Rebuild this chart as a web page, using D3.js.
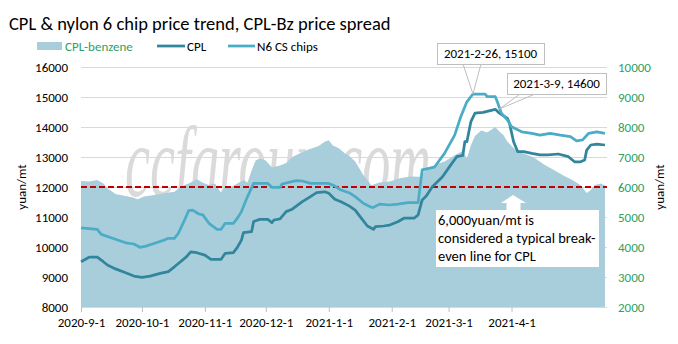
<!DOCTYPE html>
<html><head><meta charset="utf-8">
<script src="https://cdn.jsdelivr.net/npm/d3@7/dist/d3.min.js"></script>
<style>
body{margin:0;background:#fff}
svg{display:block}
text{font-family:Carlito,Lato,sans-serif}
</style>
</head><body>
<svg id="c" width="678" height="344"></svg>
<script>
// ---------------- data ----------------
const title = "CPL & nylon 6 chip price trend, CPL-Bz price spread";
const seriesNames = ["CPL-benzene", "CPL", "N6 CS chips"];

const spreadDates = ["2020-09-01","2020-09-05","2020-09-09","2020-09-12","2020-09-14","2020-09-18","2020-09-23","2020-09-26","2020-09-29","2020-10-02","2020-10-07","2020-10-12","2020-10-17","2020-10-20","2020-10-24","2020-10-28","2020-10-31","2020-11-03","2020-11-06","2020-11-09","2020-11-11","2020-11-14","2020-11-17","2020-11-20","2020-11-22","2020-11-24","2020-11-26","2020-11-28","2020-12-01","2020-12-04","2020-12-08","2020-12-11","2020-12-14","2020-12-17","2020-12-22","2020-12-27","2020-12-30","2021-01-01","2021-01-03","2021-01-06","2021-01-09","2021-01-11","2021-01-14","2021-01-18","2021-01-21","2021-01-22","2021-01-26","2021-01-31","2021-02-05","2021-02-10","2021-02-15","2021-02-18","2021-02-22","2021-02-27","2021-03-04","2021-03-08","2021-03-10","2021-03-12","2021-03-14","2021-03-17","2021-03-20","2021-03-24","2021-03-26","2021-03-28","2021-03-30","2021-04-03","2021-04-07","2021-04-12","2021-04-17","2021-04-22","2021-04-27","2021-05-01","2021-05-05","2021-05-08","2021-05-10","2021-05-12","2021-05-15","2021-05-17"];
const spreadValues = [6200,6180,6230,6120,5960,5770,5700,5660,5590,5680,5730,5790,5840,6010,6120,6260,6140,6070,6120,5810,6030,6010,6120,6230,6150,6550,6880,6950,6880,6650,6720,6800,7000,7100,7250,7370,7510,7560,7380,7290,7120,7040,6850,6400,6150,6060,6150,6180,6290,6350,6340,6570,6730,6850,7060,7200,6950,7400,7700,7880,7820,8000,7850,7730,7510,7230,7120,6980,6750,6560,6370,6230,6060,5800,5900,6070,6120,6050];

const cplDates = ["2020-09-01","2020-09-05","2020-09-09","2020-09-12","2020-09-14","2020-09-18","2020-09-23","2020-09-27","2020-10-01","2020-10-05","2020-10-10","2020-10-14","2020-10-17","2020-10-20","2020-10-23","2020-10-25","2020-10-28","2020-11-01","2020-11-04","2020-11-09","2020-11-11","2020-11-15","2020-11-17","2020-11-19","2020-11-20","2020-11-24","2020-11-25","2020-11-28","2020-12-02","2020-12-04","2020-12-05","2020-12-08","2020-12-11","2020-12-14","2020-12-19","2020-12-23","2020-12-26","2020-12-30","2021-01-01","2021-01-04","2021-01-07","2021-01-11","2021-01-14","2021-01-17","2021-01-20","2021-01-23","2021-01-24","2021-01-28","2021-01-31","2021-02-04","2021-02-07","2021-02-12","2021-02-14","2021-02-16","2021-02-18","2021-02-21","2021-02-26","2021-03-02","2021-03-05","2021-03-08","2021-03-09","2021-03-10","2021-03-12","2021-03-14","2021-03-18","2021-03-21","2021-03-24","2021-03-26","2021-03-30","2021-03-31","2021-04-02","2021-04-04","2021-04-07","2021-04-11","2021-04-15","2021-04-19","2021-04-24","2021-04-29","2021-05-02","2021-05-05","2021-05-07","2021-05-08","2021-05-10","2021-05-13","2021-05-17"];
const cplValues = [9510,9660,9660,9510,9400,9270,9140,9030,8990,9030,9120,9180,9340,9510,9680,9840,9810,9730,9590,9590,9790,9810,9990,10230,10480,10510,10850,10920,10920,10810,10900,10940,11180,11260,11510,11680,11810,11840,11790,11590,11510,11370,11230,10960,10700,10590,10680,10700,10730,10840,10960,10960,11070,11570,11700,12010,12340,12730,13010,13050,13510,13510,14180,14460,14490,14540,14590,14460,14290,14120,13510,13180,13180,13120,13070,13070,13100,13010,12840,12840,12900,13230,13400,13430,13400];

const n6Dates = ["2020-09-01","2020-09-09","2020-09-11","2020-09-18","2020-09-23","2020-09-27","2020-09-30","2020-10-03","2020-10-08","2020-10-12","2020-10-14","2020-10-17","2020-10-19","2020-10-22","2020-10-24","2020-10-26","2020-10-29","2020-10-31","2020-11-03","2020-11-07","2020-11-09","2020-11-11","2020-11-15","2020-11-17","2020-11-19","2020-11-22","2020-11-25","2020-12-02","2020-12-04","2020-12-08","2020-12-09","2020-12-16","2020-12-19","2020-12-23","2021-01-01","2021-01-04","2021-01-07","2021-01-11","2021-01-14","2021-01-18","2021-01-22","2021-01-23","2021-01-26","2021-01-31","2021-02-04","2021-02-09","2021-02-14","2021-02-16","2021-02-22","2021-02-27","2021-03-04","2021-03-07","2021-03-10","2021-03-13","2021-03-19","2021-03-20","2021-03-24","2021-03-25","2021-03-27","2021-03-30","2021-04-01","2021-04-06","2021-04-11","2021-04-15","2021-04-20","2021-04-25","2021-04-30","2021-05-03","2021-05-06","2021-05-09","2021-05-13","2021-05-17"];
const n6Values = [10640,10590,10420,10260,10140,10100,9990,10030,10140,10230,10290,10290,10460,10900,11210,11230,11100,11070,10790,10590,10590,10790,10790,10960,11180,11680,12120,12120,11990,11990,12100,12210,12200,12120,12120,12030,11900,11810,11680,11460,11320,11320,11430,11400,11430,11480,11480,12570,12660,13120,13730,14340,14840,15100,15100,15010,15010,14840,14460,14230,14010,13840,13790,13730,13790,13730,13680,13540,13570,13790,13840,13790];

const xTickDates = ["2020-09-01","2020-10-01","2020-11-01","2020-12-01","2021-01-01","2021-02-01","2021-03-01","2021-04-01"];
const xTickLabels = ["2020-9-1","2020-10-1","2020-11-1","2020-12-1","2021-1-1","2021-2-1","2021-3-1","2021-4-1"];
const leftTicks = [8000,9000,10000,11000,12000,13000,14000,15000,16000];
const rightTicks = [2000,3000,4000,5000,6000,7000,8000,9000,10000];
const breakEven = 6000; // right axis
const peakN6 = {date:"2021-03-13", value:15100, label:"2021-2-26, 15100"};
const peakCPL = {date:"2021-03-26", value:14600, label:"2021-3-9, 14600"};
const noteLines = ["6,000yuan/mt is","considered a typical break-","even line for CPL"];
const watermark = "ccfgroup.com";

// ---------------- layout ----------------
const L = 81, R = 607, T = 67, B = 307;
const cArea = "#a9cedb", cCPL = "#31859c", cN6 = "#4bacc6", cGreen = "#2e9f62", cRed = "#c00000";
const FONT = "Carlito,Lato,sans-serif";

const parse = d3.timeParse("%Y-%m-%d");
const svg = d3.select("#c");

const x = d3.scaleTime().domain([parse("2020-09-01"), parse("2021-05-18")]).range([L, R]);
const yL = d3.scaleLinear().domain([8000, 16000]).range([B, T]);
const yR = d3.scaleLinear().domain([2000, 10000]).range([B, T]);

const spread = spreadDates.map((d,i)=>({d:parse(d), v:spreadValues[i]}));
const cpl = cplDates.map((d,i)=>({d:parse(d), v:cplValues[i]}));
const n6 = n6Dates.map((d,i)=>({d:parse(d), v:n6Values[i]}));

// watermark (behind everything)
svg.append("text")
  .attr("transform", "translate(125,196) scale(0.88,1.6)")
  .style("font-family", "'Liberation Serif','DejaVu Serif',serif")
  .style("font-style", "italic")
  .style("font-size", "64px")
  .attr("fill", "#dadada")
  .text(watermark);

// gridlines
svg.append("g").attr("transform", `translate(${L},0)`)
  .call(d3.axisLeft(yL).tickValues(leftTicks.slice(1)).tickSize(-(R-L)).tickFormat(""))
  .call(g=>g.select(".domain").remove())
  .call(g=>g.selectAll("line").attr("stroke","#d9d9d9").attr("stroke-width",1));

// area
svg.append("path").datum(spread)
  .attr("fill", cArea)
  .attr("d", d3.area().x(d=>x(d.d)).y0(yR(2000)).y1(d=>yR(d.v)));

// x axis
const xa = svg.append("g").attr("transform", `translate(0,${B})`)
  .call(d3.axisBottom(x).tickValues(xTickDates.map(parse)).tickFormat((d,i)=>xTickLabels[i]).tickSize(5).tickPadding(6));
xa.select(".domain").attr("stroke","#d9d9d9").attr("d", `M${L},0.5H${R}`);
xa.selectAll("line").attr("stroke","#bfbfbf");
xa.selectAll("text").attr("fill","#000").style("font-size","13px").style("font-family",FONT);

// left axis
const la = svg.append("g").attr("transform", `translate(${L},0)`)
  .call(d3.axisLeft(yL).tickValues(leftTicks).tickFormat(d3.format("d")).tickSize(0).tickPadding(13));
la.select(".domain").remove();
la.selectAll("text").attr("fill","#000").style("font-size","13px").style("font-family",FONT);

// right axis
const ra = svg.append("g").attr("transform", `translate(${R},0)`)
  .call(d3.axisRight(yR).tickValues(rightTicks).tickFormat(d3.format("d")).tickSize(0).tickPadding(11));
ra.select(".domain").remove();
ra.selectAll("text").attr("fill",cGreen).style("font-size","13px").style("font-family",FONT);

// axis titles
svg.append("text").attr("transform","translate(26,187) rotate(-90)").attr("text-anchor","middle")
  .style("font-size","13px").attr("fill","#000").text("yuan/mt");
svg.append("text").attr("transform","translate(664,187) rotate(-90)").attr("text-anchor","middle")
  .style("font-size","13px").attr("fill","#000").text("yuan/mt");

// break-even line
svg.append("line").attr("x1",L).attr("x2",R).attr("y1",yR(breakEven)).attr("y2",yR(breakEven))
  .attr("stroke",cRed).attr("stroke-width",2).attr("stroke-dasharray","6,3");

// lines
const line = d3.line().x(d=>x(d.d)).y(d=>yL(d.v));
svg.append("path").datum(cpl).attr("fill","none").attr("stroke",cCPL).attr("stroke-width",2.75)
  .attr("stroke-linejoin","round").attr("d", line);
svg.append("path").datum(n6).attr("fill","none").attr("stroke",cN6).attr("stroke-width",2.75)
  .attr("stroke-linejoin","round").attr("d", line);

// title
svg.append("text").attr("x",9).attr("y",30).style("font-size","18.5px").attr("fill","#000").text(title);

// legend
const lg = svg.append("g");
lg.append("rect").attr("x",37).attr("y",42).attr("width",25).attr("height",8).attr("fill",cArea);
lg.append("text").attr("x",65).attr("y",50.5).style("font-size","13px").attr("fill",cGreen).text(seriesNames[0]);
lg.append("line").attr("x1",157).attr("x2",185).attr("y1",46).attr("y2",46).attr("stroke",cCPL).attr("stroke-width",2.75);
lg.append("text").attr("x",187).attr("y",50.5).style("font-size","13px").attr("fill","#000").text(seriesNames[1]);
lg.append("line").attr("x1",228).attr("x2",255).attr("y1",46).attr("y2",46).attr("stroke",cN6).attr("stroke-width",2.75);
lg.append("text").attr("x",257).attr("y",50.5).style("font-size","13px").attr("fill","#000").text(seriesNames[2]);

// callouts
function callout(bx, by, bw, bh, wl, wr, px, py, label){
  const g = svg.append("g");
  g.append("path").attr("d",`M${wl},${by+bh}L${px},${py}L${wr},${by+bh}`).attr("fill","none").attr("stroke","#bfbfbf").attr("stroke-width",1);
  g.append("rect").attr("x",bx+0.5).attr("y",by+0.5).attr("width",bw).attr("height",bh).attr("fill","#fff").attr("stroke","#bfbfbf");
  g.append("text").attr("x",bx+bw/2).attr("y",by+bh/2+4.5).attr("text-anchor","middle").style("font-size","13px").attr("fill","#000").text(label);
}
callout(437, 43, 107, 21, 463, 481, x(parse(peakN6.date)), yL(peakN6.value), peakN6.label);
callout(507, 73, 99, 21, 520, 535, x(parse(peakCPL.date)), yL(peakCPL.value), peakCPL.label);

// note box + arrow
svg.append("path").attr("d","M513,195L526,203L520.5,203L520.5,211L506.5,211L506.5,203L501,203Z").attr("fill","#fff");
svg.append("rect").attr("x",436).attr("y",210).attr("width",163).attr("height",57).attr("fill","#fff");
const nt = svg.append("text").style("font-size","14.5px").attr("fill","#000");
noteLines.forEach((s,i)=>nt.append("tspan").attr("x",438).attr("y",225+i*18).text(s));
</script>
</body></html>
